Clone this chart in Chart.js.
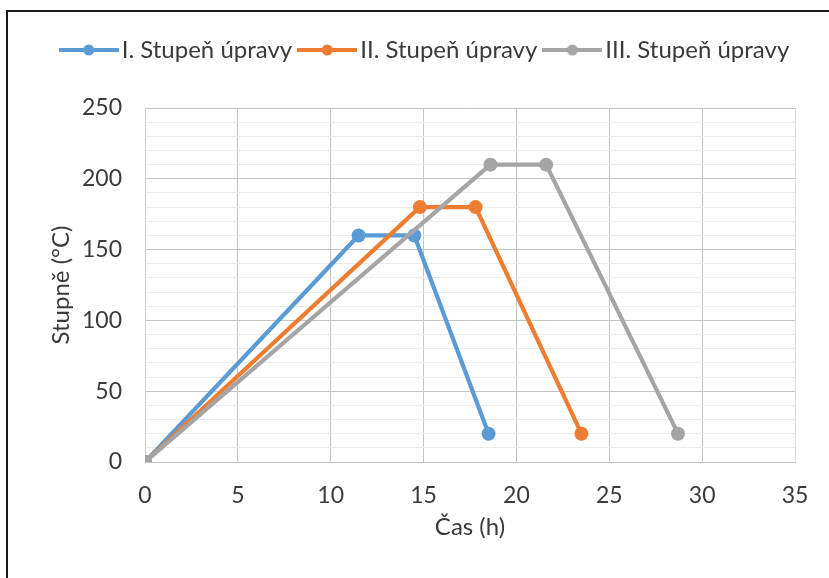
<!DOCTYPE html>
<html>
<head>
<meta charset="utf-8">
<script src="https://cdn.jsdelivr.net/npm/chart.js@4.4.1/dist/chart.umd.min.js"></script>
<style>
  html, body { margin: 0; padding: 0; background: #fff; }
  #wrap { position: relative; width: 829px; height: 578px; }
</style>
</head>
<body>
<div id="wrap"><canvas id="c" width="829" height="578"></canvas></div>
<script>
// Heating schedules: time (h) against temperature (°C)
const seriesNames = ['I. Stupeň úpravy', 'II. Stupeň úpravy', 'III. Stupeň úpravy'];
const hoursI = [0, 11.5, 14.5, 18.5];
const tempsI = [0, 160, 160, 20];
const hoursII = [0, 14.8, 17.8, 23.5];
const tempsII = [0, 180, 180, 20];
const hoursIII = [0, 18.6, 21.6, 28.7];
const tempsIII = [0, 210, 210, 20];
const colors = ['#5b9bd5', '#ed7d31', '#a5a5a5'];
const xTicks = [0, 5, 10, 15, 20, 25, 30, 35];
const yTicks = [0, 50, 100, 150, 200, 250];

const FONT = 'Lato, "Open Sans", sans-serif';
const TEXT = '#3a3a3a';

function pts(xs, ys) { return xs.map((x, i) => ({ x: x, y: ys[i] })); }

// legend symbol: short line with a dot in the middle
function legendSymbol(color) {
  const c = document.createElement('canvas');
  c.width = 60; c.height = 14;
  const g = c.getContext('2d');
  g.strokeStyle = color; g.lineWidth = 4;
  g.beginPath(); g.moveTo(0, 7); g.lineTo(60, 7); g.stroke();
  g.fillStyle = color;
  g.beginPath(); g.arc(30, 7, 5.5, 0, Math.PI * 2); g.fill();
  return c;
}

function makeSet(i, xs, ys, order) {
  return {
    label: seriesNames[i],
    data: pts(xs, ys),
    showLine: true,
    borderColor: colors[i],
    backgroundColor: colors[i],
    borderWidth: 4.2,
    pointRadius: 7,
    pointHoverRadius: 7,
    pointBorderWidth: 0,
    pointStyle: 'circle',
    order: order
  };
}

// frame on the top and left edge
const framePlugin = {
  id: 'frame',
  afterDraw(chart) {
    const ctx = chart.ctx;
    ctx.save();
    ctx.strokeStyle = '#1a1a1a';
    ctx.lineWidth = 2;
    ctx.beginPath();
    ctx.moveTo(829, 11); ctx.lineTo(7, 11); ctx.lineTo(7, 578);
    ctx.stroke();
    ctx.restore();
  }
};

// place the legend row near the top, a little right of centre
const legendPlacePlugin = {
  id: 'legendPlace',
  afterLayout(chart) {
    const lg = chart.legend;
    if (!lg) return;
    const dy = 24 - lg.top;
    lg.top += dy; lg.bottom += dy;
    const dx = 31;
    lg.left += dx; lg.right += dx;
  }
};

const symbols = colors.map(legendSymbol);

new Chart(document.getElementById('c'), {
  type: 'scatter',
  data: {
    datasets: [
      makeSet(0, hoursI, tempsI, 2),
      makeSet(1, hoursII, tempsII, 1),
      makeSet(2, hoursIII, tempsIII, 0)
    ]
  },
  options: {
    responsive: false,
    animation: false,
    layout: { padding: { left: 0, right: 34, top: 60, bottom: 0 } },
    plugins: {
      tooltip: { enabled: false },
      legend: {
        position: 'top',
        labels: {
          usePointStyle: true,
          pointStyleWidth: 42,
          padding: 14,
          color: TEXT,
          font: { family: FONT, size: 24 },
          generateLabels(chart) {
            return chart.data.datasets.map((d, i) => ({
              text: d.label,
              fillStyle: colors[i],
              strokeStyle: colors[i],
              lineWidth: 0,
              pointStyle: symbols[i],
              fontColor: TEXT,
              datasetIndex: i,
              hidden: false
            }));
          }
        }
      }
    },
    scales: {
      x: {
        type: 'linear',
        min: 0, max: 35,
        afterBuildTicks(s) { s.ticks = xTicks.map(v => ({ value: v })); },
        afterFit(s) { s.height = 116; },
        grid: {
          color: (ctx) => ctx.tick && ctx.tick.value === 35 ? '#dcdcdc' : '#c4c4c4',
          lineWidth: 1,
          drawTicks: false
        },
        border: { color: '#c4c4c4' },
        ticks: { padding: 20, color: TEXT, font: { family: FONT, size: 23 } },
        title: {
          display: true, text: 'Čas (h)', color: TEXT,
          font: { family: FONT, size: 24 }, padding: { top: 0, bottom: 36 }
        }
      },
      y: {
        type: 'linear',
        min: 0, max: 250,
        afterBuildTicks(s) {
          const t = [];
          for (let v = 0; v <= 250; v += 10) t.push({ value: v });
          s.ticks = t;
        },
        afterFit(s) { s.width = 145; },
        grid: {
          color: (ctx) => ctx.tick && ctx.tick.value % 50 === 0 ? '#c4c4c4' : '#ececec',
          lineWidth: 1,
          drawTicks: false
        },
        border: { color: '#d0d0d0' },
        ticks: {
          padding: 23, color: TEXT, autoSkip: false,
          font: { family: FONT, size: 23 },
          callback: (v) => yTicks.includes(v) ? String(v) : ''
        },
        title: {
          display: true, text: 'Stupně (°C)', color: TEXT,
          font: { family: FONT, size: 24 }, padding: { top: 47, bottom: 0 }
        }
      }
    }
  },
  plugins: [framePlugin, legendPlacePlugin]
});
</script>
</body>
</html>
